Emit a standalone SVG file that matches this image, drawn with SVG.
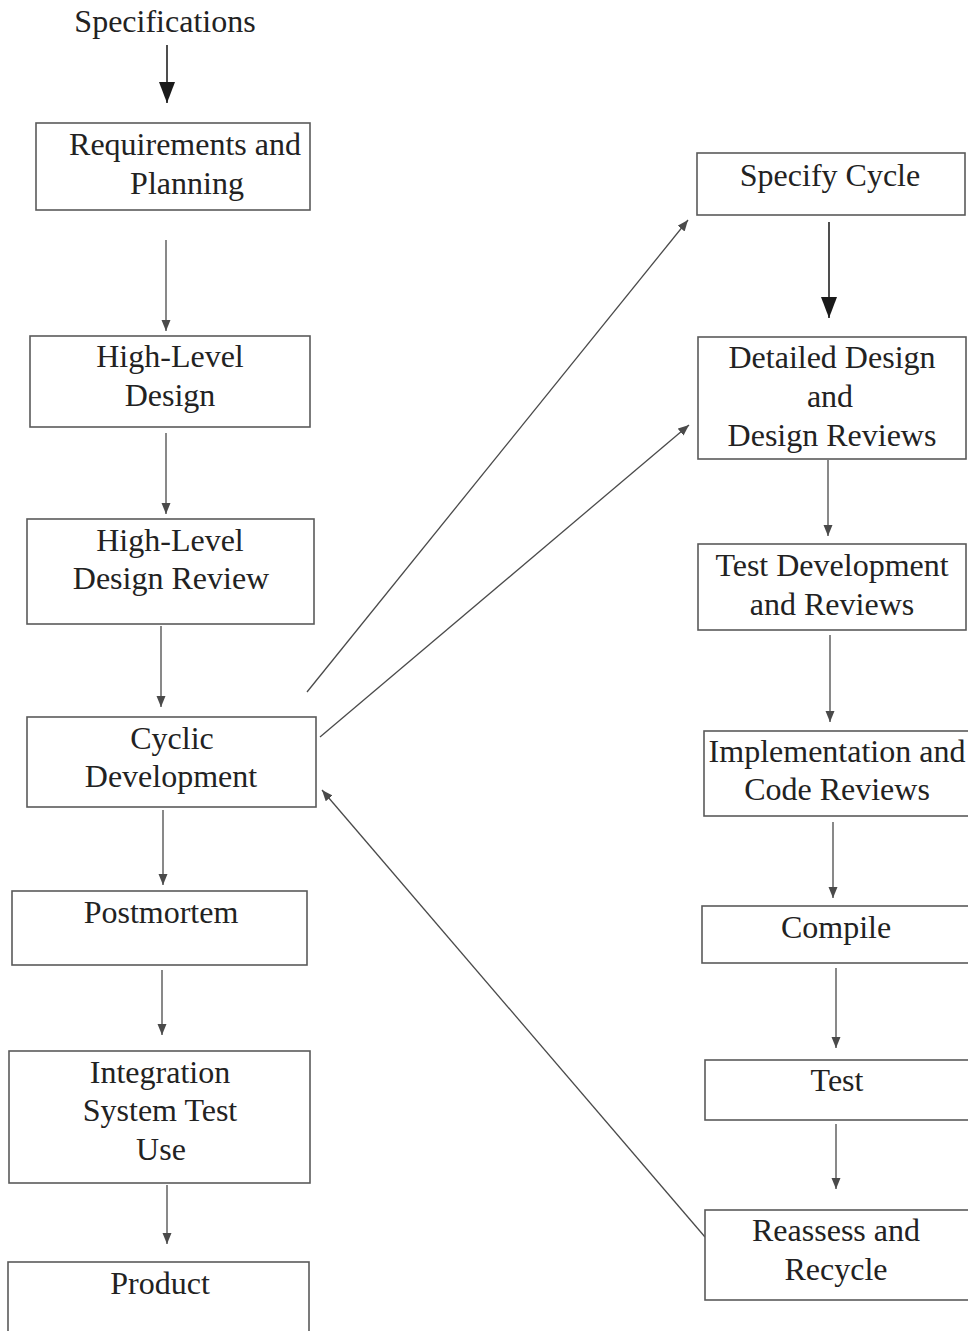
<svg xmlns="http://www.w3.org/2000/svg" width="968" height="1331" viewBox="0 0 968 1331">
  <style>
    .box { fill: #ffffff; stroke: #5a5a5a; stroke-width: 1.6; }
    .lbl { font-family: "Liberation Serif", "Times New Roman", serif; font-size: 32px; fill: #222222; text-anchor: middle; }
    .conn { fill: none; stroke: #4a4a4a; stroke-width: 1.3; }
    .bold { fill: none; stroke: #222222; stroke-width: 1.6; }
  </style>
  <defs>
    <marker id="tip" markerUnits="userSpaceOnUse" markerWidth="12" markerHeight="10" refX="11" refY="4.5" orient="auto">
      <path d="M0,0 L11,4.5 L0,9 z" fill="#4a4a4a"/>
    </marker>
    <marker id="tipBig" markerUnits="userSpaceOnUse" markerWidth="22" markerHeight="18" refX="21" refY="8" orient="auto">
      <path d="M0,0 L21,8 L0,16 z" fill="#1a1a1a"/>
    </marker>
  </defs>

  <rect width="968" height="1331" fill="#ffffff"/>

  <!-- connectors -->
  <g id="connectors">
    <line class="bold" x1="167" y1="45" x2="167" y2="103" marker-end="url(#tipBig)"/>
    <line class="conn" x1="166" y1="240" x2="166" y2="331" marker-end="url(#tip)"/>
    <line class="conn" x1="166" y1="433" x2="166" y2="514" marker-end="url(#tip)"/>
    <line class="conn" x1="161" y1="626" x2="161" y2="707" marker-end="url(#tip)"/>
    <line class="conn" x1="163" y1="810" x2="163" y2="885" marker-end="url(#tip)"/>
    <line class="conn" x1="162" y1="970" x2="162" y2="1035" marker-end="url(#tip)"/>
    <line class="conn" x1="167" y1="1185" x2="167" y2="1244" marker-end="url(#tip)"/>

    <line class="bold" x1="829" y1="222" x2="829" y2="318" marker-end="url(#tipBig)"/>
    <line class="conn" x1="828" y1="460" x2="828" y2="536" marker-end="url(#tip)"/>
    <line class="conn" x1="830" y1="635" x2="830" y2="722" marker-end="url(#tip)"/>
    <line class="conn" x1="833" y1="822" x2="833" y2="898" marker-end="url(#tip)"/>
    <line class="conn" x1="836" y1="968" x2="836" y2="1048" marker-end="url(#tip)"/>
    <line class="conn" x1="836" y1="1124" x2="836" y2="1189" marker-end="url(#tip)"/>

    <line class="conn" x1="307" y1="692" x2="688" y2="220" marker-end="url(#tip)"/>
    <line class="conn" x1="320" y1="737" x2="689" y2="425" marker-end="url(#tip)"/>
    <line class="conn" x1="705" y1="1237" x2="322" y2="790" marker-end="url(#tip)"/>
  </g>

  <!-- left column -->
  <g id="specifications">
    <text class="lbl" x="165" y="32">Specifications</text>
  </g>
  <g id="requirements">
    <rect class="box" x="36" y="123" width="274" height="87"/>
    <text class="lbl" x="185" y="155">Requirements and</text>
    <text class="lbl" x="187" y="194">Planning</text>
  </g>
  <g id="high-level-design">
    <rect class="box" x="30" y="336" width="280" height="91"/>
    <text class="lbl" x="170" y="367">High-Level</text>
    <text class="lbl" x="170" y="406">Design</text>
  </g>
  <g id="high-level-design-review">
    <rect class="box" x="27" y="519" width="287" height="105"/>
    <text class="lbl" x="170" y="551">High-Level</text>
    <text class="lbl" x="171" y="589">Design Review</text>
  </g>
  <g id="cyclic-development">
    <rect class="box" x="27" y="717" width="289" height="90"/>
    <text class="lbl" x="172" y="749">Cyclic</text>
    <text class="lbl" x="171" y="787">Development</text>
  </g>
  <g id="postmortem">
    <rect class="box" x="12" y="891" width="295" height="74"/>
    <text class="lbl" x="161" y="923">Postmortem</text>
  </g>
  <g id="integration">
    <rect class="box" x="9" y="1051" width="301" height="132"/>
    <text class="lbl" x="160" y="1083">Integration</text>
    <text class="lbl" x="160" y="1121">System Test</text>
    <text class="lbl" x="161" y="1160">Use</text>
  </g>
  <g id="product">
    <rect class="box" x="8" y="1262" width="301" height="90"/>
    <text class="lbl" x="160" y="1294">Product</text>
  </g>

  <!-- right column -->
  <g id="specify-cycle">
    <rect class="box" x="697" y="153" width="268" height="62"/>
    <text class="lbl" x="830" y="186">Specify Cycle</text>
  </g>
  <g id="detailed-design">
    <rect class="box" x="698" y="337" width="268" height="122"/>
    <text class="lbl" x="832" y="368">Detailed Design</text>
    <text class="lbl" x="830" y="407">and</text>
    <text class="lbl" x="832" y="446">Design Reviews</text>
  </g>
  <g id="test-development">
    <rect class="box" x="698" y="544" width="268" height="86"/>
    <text class="lbl" x="832" y="576">Test Development</text>
    <text class="lbl" x="832" y="615">and Reviews</text>
  </g>
  <g id="implementation">
    <rect class="box" x="704" y="731" width="270" height="85"/>
    <text class="lbl" x="837" y="762">Implementation and</text>
    <text class="lbl" x="837" y="800">Code Reviews</text>
  </g>
  <g id="compile">
    <rect class="box" x="702" y="906" width="272" height="57"/>
    <text class="lbl" x="836" y="938">Compile</text>
  </g>
  <g id="test">
    <rect class="box" x="705" y="1060" width="269" height="60"/>
    <text class="lbl" x="837" y="1091">Test</text>
  </g>
  <g id="reassess">
    <rect class="box" x="705" y="1210" width="269" height="90"/>
    <text class="lbl" x="836" y="1241">Reassess and</text>
    <text class="lbl" x="836" y="1280">Recycle</text>
  </g>
</svg>
